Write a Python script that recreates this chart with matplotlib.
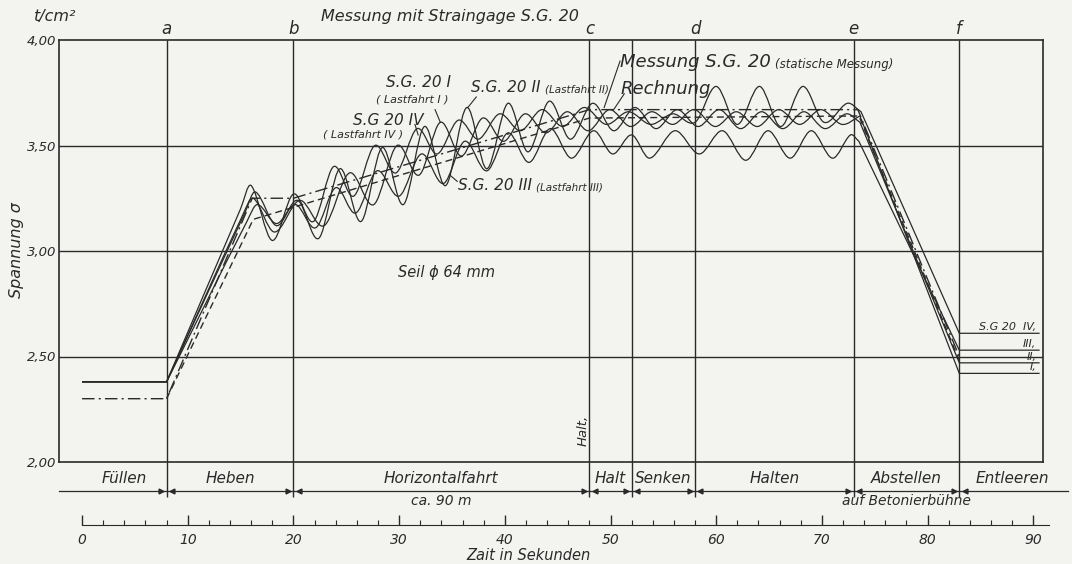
import numpy as np
import matplotlib.pyplot as plt
from matplotlib.path import Path
from matplotlib.patches import PathPatch
from matplotlib.ticker import FixedLocator

plt.rcParams['font.family'] = ['DejaVu Sans Condensed', 'Liberation Sans Narrow', 'DejaVu Sans']
plt.rcParams['font.style'] = 'italic'

# phases (time in s)
phase_t = [8, 20, 48, 52, 58, 73, 83]
phase_marks = ['a', 'b', 'c', '', 'd', 'e', 'f']
phase_names = ['Füllen', 'Heben', 'Horizontalfahrt', 'Halt', 'Senken', 'Halten', 'Abstellen', 'Entleeren']
y_ticks = [2.0, 2.5, 3.0, 3.5, 4.0]
y_labels = ['2,00', '2,50', '3,00', '3,50', '4,00']
time_major = list(range(0, 91, 10))
time_minor = list(range(0, 92, 2))

t_I = [0, 8, 15.2, 16.2, 18.2, 20.6, 22.9, 25.3, 27.6, 29.8, 31.9, 33.9, 35.9, 37.9, 39.9, 41.9,
       43.9, 45.9, 47.9, 49.9, 51.9, 53.9, 55.9, 57.9, 59.9, 61.9, 63.9, 65.9, 67.9, 69.9, 71.9,
       73.6, 83, 90.6]
v_I = [2.38, 2.38, 3.17, 3.25, 3.09, 3.24, 3.12, 3.37, 3.22, 3.50, 3.36, 3.61, 3.45, 3.63, 3.52, 3.65,
       3.56, 3.66, 3.57, 3.67, 3.59, 3.66, 3.60, 3.67, 3.59, 3.66, 3.59, 3.67, 3.60, 3.67, 3.60,
       3.64, 2.42, 2.42]

t_II = [0, 8, 15.4, 16.4, 18.4, 20.4, 22.4, 24.4, 26.4, 28.4, 30.4, 32.4, 34.4, 36.4, 38.3, 40.3,
        42.2, 44.2, 46.2, 48.3, 50.3, 52.3, 54.3, 56.3, 58.3, 60.3, 62.3, 64.3, 66.3, 68.3, 70.3,
        72.3, 73.6, 83, 90.6]
v_II = [2.38, 2.38, 3.18, 3.28, 3.12, 3.24, 3.06, 3.39, 3.14, 3.49, 3.22, 3.59, 3.31, 3.68, 3.39, 3.70,
        3.47, 3.71, 3.53, 3.70, 3.57, 3.68, 3.58, 3.67, 3.59, 3.67, 3.58, 3.66, 3.58, 3.66, 3.58,
        3.65, 3.61, 2.47, 2.47]

t_III = [0, 8, 15.6, 16.6, 18.4, 20.2, 22.1, 24.0, 25.9, 27.9, 30.0, 32.1, 34.2, 36.2, 38.3, 40.3,
         42.3, 44.3, 46.3, 48.4, 50.2, 52.0, 53.7, 56.1, 58.4, 60.6, 62.8, 64.9, 67.0, 69.0, 71.0,
         72.7, 73.5, 83, 90.6]
v_III = [2.38, 2.38, 3.14, 3.22, 3.13, 3.22, 3.11, 3.30, 3.18, 3.38, 3.26, 3.46, 3.32, 3.52, 3.38, 3.56,
         3.42, 3.58, 3.44, 3.57, 3.46, 3.55, 3.44, 3.57, 3.46, 3.57, 3.43, 3.57, 3.44, 3.57, 3.44,
         3.55, 3.52, 2.53, 2.53]

t_IV = [0, 8, 15, 16, 18, 20, 21.9, 23.8, 25.7, 27.7, 29.7, 31.7, 33.6, 35.6, 37.5, 39.5,
        41.5, 43.5, 45.5, 47.5, 49.6, 51.7, 53.8, 55.9, 58.0, 60.0, 62.0, 64.1, 66.1, 68.2, 70.2,
        72.4, 73.7, 83, 90.6]
v_IV = [2.38, 2.38, 3.20, 3.31, 3.05, 3.27, 3.14, 3.40, 3.26, 3.50, 3.37, 3.58, 3.46, 3.62, 3.53, 3.65,
        3.57, 3.67, 3.59, 3.68, 3.60, 3.66, 3.60, 3.65, 3.61, 3.78, 3.60, 3.78, 3.59, 3.78, 3.61,
        3.70, 3.66, 2.61, 2.61]

# calculation (dash-dot) and static measurement (dashed)
t_rech = [0, 8, 16.1, 20, 48, 73.4, 83]
v_rech = [2.30, 2.30, 3.25, 3.25, 3.67, 3.67, 2.50]
t_stat = [8, 16.2, 48, 73.5, 83]
v_stat = [2.30, 3.15, 3.63, 3.64, 2.48]

INK = '#2a2a2a'
BG = '#f3f3f0'


def smooth_path(ts, vs):
    # bezier through the read points, kinks at start of rise and of the drop
    ts = np.asarray(ts, float)
    vs = np.asarray(vs, float)
    n = len(ts)
    corners = {1, n - 3, n - 2}
    sl = np.diff(vs) / np.diff(ts)
    m_in = np.zeros(n)
    m_out = np.zeros(n)
    for i in range(n):
        if i == 0:
            m_in[i] = m_out[i] = sl[0]
        elif i == n - 1:
            m_in[i] = m_out[i] = sl[-1]
        elif i in corners:
            m_in[i], m_out[i] = sl[i - 1], sl[i]
        else:
            m_in[i] = m_out[i] = (vs[i + 1] - vs[i - 1]) / (ts[i + 1] - ts[i - 1])
    verts = [(ts[0], vs[0])]
    codes = [Path.MOVETO]
    for i in range(n - 1):
        h = ts[i + 1] - ts[i]
        verts += [(ts[i] + h / 3, vs[i] + m_out[i] * h / 3),
                  (ts[i + 1] - h / 3, vs[i + 1] - m_in[i + 1] * h / 3),
                  (ts[i + 1], vs[i + 1])]
        codes += [Path.CURVE4] * 3
    return Path(verts, codes)


def label_pair(x, y, big, small, size_big=11, size_small=7.5, ha='left'):
    # big text followed by a smaller bracket text on the same line
    t = ax.text(x, y, big, ha=ha, va='baseline', fontsize=size_big, color=INK)
    ax.annotate(small, xy=(1, 0), xycoords=t, xytext=(3, 0), textcoords='offset points',
                ha='left', va='bottom', fontsize=size_small, color=INK)
    return t


fig = plt.figure(figsize=(10.72, 5.64), dpi=100, facecolor=BG)
ax = fig.add_axes([59 / 1072, 1 - 462 / 564, 984 / 1072, 422 / 564], facecolor=BG)
ax.set_xlim(-2.18, 90.92)
ax.set_ylim(2.0, 4.0)
for s in ax.spines.values():
    s.set_color(INK)
    s.set_linewidth(1.2)
ax.set_xticks([])
ax.set_yticks(y_ticks)
ax.set_yticklabels(y_labels, fontsize=9.5)
ax.tick_params(axis='y', length=0, pad=2, colors=INK)

# grid
for y in y_ticks[1:-1]:
    ax.axhline(y, color=INK, lw=1.0)
trans = ax.get_xaxis_transform()
ax.vlines(phase_t, -0.083, 1, transform=trans, color=INK, lw=1.0, clip_on=False)
for t, m in zip(phase_t, phase_marks):
    if m:
        ax.text(t, 1.026, m, transform=trans, ha='center', va='center', fontsize=12, color=INK)

# curves
for tt, vv in [(t_I, v_I), (t_II, v_II), (t_III, v_III), (t_IV, v_IV)]:
    ax.add_patch(PathPatch(smooth_path(tt, vv), fill=False, edgecolor=INK, lw=0.9))
ax.plot(t_rech, v_rech, color=INK, lw=1.0, linestyle=(0, (9, 3, 1.5, 3)))
ax.plot(t_stat, v_stat, color=INK, lw=1.0, linestyle=(0, (5, 3)))

# curve labels
ax.text(31.8, 3.80, 'S.G. 20 I', ha='center', va='center', fontsize=11, color=INK)
ax.text(31.2, 3.72, '( Lastfahrt I )', ha='center', va='center', fontsize=8, color=INK)
ax.plot([33.4, 33.9], [3.67, 3.61], color=INK, lw=0.8)
ax.text(29.0, 3.62, 'S.G 20 IV', ha='center', va='center', fontsize=11, color=INK)
ax.text(26.6, 3.55, '( Lastfahrt IV )', ha='center', va='center', fontsize=8, color=INK)
ax.plot([31.5, 31.8], [3.60, 3.55], color=INK, lw=0.8)
label_pair(36.8, 3.755, 'S.G. 20 II', '(Lastfahrt II)')
ax.plot([37.3, 36.5], [3.73, 3.68], color=INK, lw=0.8)
label_pair(35.6, 3.29, 'S.G. 20 III', '(Lastfahrt III)')
ax.plot([35.5, 34.8], [3.33, 3.36], color=INK, lw=0.8)
label_pair(50.9, 3.87, 'Messung S.G. 20', '(statische Messung)', size_big=13, size_small=8.5)
ax.plot([50.9, 49.4], [3.90, 3.68], color=INK, lw=0.8)
ax.text(50.9, 3.745, 'Rechnung', ha='left', va='baseline', fontsize=13, color=INK)
ax.plot([51.3, 50.3], [3.745, 3.67], color=INK, lw=0.8)
ax.text(34.5, 2.90, 'Seil ϕ 64 mm', ha='center', va='center', fontsize=10.5, color=INK)
ax.text(47.4, 2.15, 'Halt,', rotation=90, ha='center', va='center', fontsize=9.5, color=INK)

# end values on the right
for lab, v in [('S.G 20  IV,', v_IV[-1]), ('III,', v_III[-1]), ('II,', v_II[-1]), ('I,', v_I[-1])]:
    ax.text(90.3, v + 0.006, lab, ha='right', va='bottom', fontsize=8, color=INK)

# phase bar
yb = -0.0687
ax.plot([-2.18, 93.3], [yb, yb], transform=trans, color=INK, lw=0.9, clip_on=False)
for t in phase_t:
    ax.plot([t - 0.5], [yb], transform=trans, marker='>', ms=3.5, color=INK, clip_on=False)
    ax.plot([t + 0.5], [yb], transform=trans, marker='<', ms=3.5, color=INK, clip_on=False)
bounds = [0] + phase_t + [93]
for name, lo, hi in zip(phase_names, bounds[:-1], bounds[1:]):
    ax.text((lo + hi) / 2, -0.040, name, transform=trans, ha='center', va='center',
            fontsize=11, color=INK)
ax.text(34, -0.0924, 'ca. 90 m', transform=trans, ha='center', va='center', fontsize=10, color=INK)
ax.text(78, -0.0924, 'auf Betonierbühne', transform=trans, ha='center', va='center',
        fontsize=10, color=INK)

# time axis
axt = fig.add_axes([59 / 1072, 1 - 525 / 564, 984 / 1072, 0.0001])
axt.set_xlim(-2.18, 90.92)
axt.patch.set_visible(False)
for k in ['left', 'right', 'top']:
    axt.spines[k].set_visible(False)
axt.spines['bottom'].set_bounds(0, 91.5)
axt.spines['bottom'].set_color(INK)
axt.set_yticks([])
axt.xaxis.set_major_locator(FixedLocator(time_major))
axt.xaxis.set_minor_locator(FixedLocator(time_minor))
axt.tick_params(axis='x', which='major', direction='in', length=7, width=1, colors=INK,
                labelsize=10, pad=6)
axt.tick_params(axis='x', which='minor', direction='in', length=3.5, width=0.8, colors=INK)
fig.text(528 / 1072, 1 - 556 / 564, 'Zait in Sekunden', ha='center', va='center', fontsize=10.5, color=INK)

# axis titles
fig.text(450 / 1072, 1 - 16 / 564, 'Messung mit Straingage S.G. 20', ha='center', va='center',
         fontsize=11.5, color=INK)
fig.text(55 / 1072, 1 - 17 / 564, 't/cm²', ha='center', va='center', fontsize=11.5, color=INK)
fig.text(17 / 1072, 1 - 250 / 564, 'Spannung σ', rotation=90, ha='center', va='center',
         fontsize=11.5, color=INK)

fig.savefig('out.png', dpi=100, facecolor=BG)
